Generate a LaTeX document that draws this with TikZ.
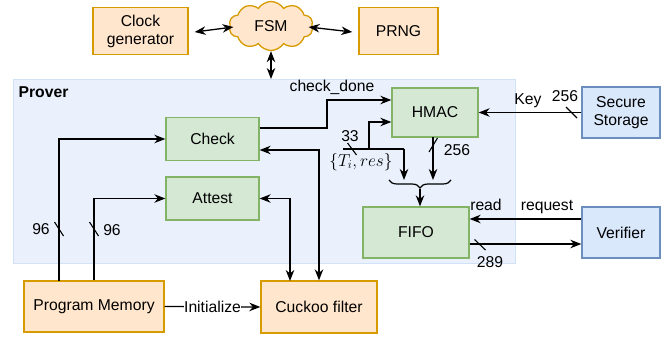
\documentclass[tikz,border=0pt]{standalone}
\usepackage{fontspec}
\setmainfont{Liberation Sans}
\usetikzlibrary{arrows.meta,shapes.symbols,decorations.pathreplacing,calc}
\definecolor{orF}{HTML}{FFE6CC}
\definecolor{orD}{HTML}{D79B00}
\definecolor{grF}{HTML}{D5E8D4}
\definecolor{grD}{HTML}{82B366}
\definecolor{blF}{HTML}{DAE8FC}
\definecolor{blD}{HTML}{6C8EBF}
\definecolor{prF}{HTML}{EAF1FC}
\definecolor{prD}{HTML}{D2E2F6}
\begin{document}
\begin{tikzpicture}[x=1pt,y=-1pt,
  font=\fontsize{15.7}{18}\selectfont,
  line width=1.3pt,
  >={Stealth[length=11pt,width=8.5pt,inset=3.5pt]},
  box/.style={draw, rectangle, inner sep=0pt, align=center, line width=1.3pt},
  obox/.style={box, fill=orF, draw=orD},
  gbox/.style={box, fill=grF, draw=grD},
  bbox/.style={box, fill=blF, draw=blD},
  lbl/.style={inner sep=1pt},
  tick/.style={line width=1.1pt}]
\useasboundingbox (0,0) rectangle (665,337);

% Prover region
\node[draw=prD, fill=prF, line width=1.2pt, rectangle, inner sep=0pt,
      minimum width=502pt, minimum height=184pt, anchor=north west] (prover) at (13,79) {};
\node[anchor=west, font=\fontsize{15.7}{18}\selectfont\bfseries, inner sep=0pt] (proverlbl) at (18,92) {Prover};

% top row
\node[obox, minimum width=95pt, minimum height=47pt] (clock) at (140.5,31) {Clock\\generator};
\node[cloud, cloud puffs=10, cloud puff arc=115, aspect=1.8, draw=orD, fill=orF,
      line width=1.3pt, minimum width=84pt, minimum height=49pt, inner sep=0pt] (fsm) at (271,26) {FSM};
\node[obox, minimum width=79pt, minimum height=47pt] (prng) at (398.5,31) {PRNG};

% inner blocks
\node[gbox, minimum width=86pt, minimum height=49pt] (hmac) at (435,112.5) {HMAC};
\node[gbox, minimum width=93pt, minimum height=43pt] (check) at (212.5,139) {Check};
\node[gbox, minimum width=93pt, minimum height=43pt] (attest) at (212.5,198.5) {Attest};
\node[gbox, minimum width=106pt, minimum height=51pt] (fifo) at (416,232.5) {FIFO};

% right blocks
\node[bbox, minimum width=78pt, minimum height=51pt] (secure) at (621,112.5) {Secure\\Storage};
\node[bbox, minimum width=78pt, minimum height=51pt] (verifier) at (621,232.5) {Verifier};

% bottom blocks
\node[obox, minimum width=140pt, minimum height=51pt] (pm) at (94,306.5) {Program Memory};
\node[obox, minimum width=116pt, minimum height=52pt] (cuckoo) at (319,307) {Cuckoo filter};

% top connectors
\draw[<->] ([xshift=6pt,yshift=-1pt]clock.east) -- ([xshift=4pt,yshift=-1pt]fsm.west);
\draw[<->] ([xshift=-4pt,yshift=-1pt]fsm.east) -- ([xshift=-6pt,yshift=-1pt]prng.west);
\draw[<->] (fsm.south) -- (fsm.south |- prover.north);

% program memory to check / attest
\coordinate (pmA) at (59,281);
\draw[->] (pmA) |- (check.west);
\draw[->] (pm.north) |- (attest.west);
\draw[tick] (54.5,222) -- (63.5,236);
\draw[tick] (89.5,222) -- (98.5,236);
\node[lbl] (n96a) at (41,229) {96};
\node[lbl] (n96b) at (112,230) {96};

% check / attest to cuckoo
\coordinate (cuA) at (290,281);
\draw[<->] (attest.east) -| (cuA);
\draw[<->] ([yshift=-11pt]check.east) -| (cuckoo.north);

% initialize
\draw[->] (pm.east) -- node[fill=white, inner sep=0.5pt] (init) {Initialize} (cuckoo.west);

% check_done
\coordinate (cdBend) at (327,128);
\draw[->] ([yshift=11pt]check.east) -- (cdBend) |- ([yshift=12.5pt]hmac.west);
\node[lbl] (cdlbl) at (332,87) {check\_done};

% bus {T_i,res}
\coordinate (busS) at (343,149);
\coordinate (busB) at (369,149);
\coordinate (busR) at (404,149);
\coordinate (brL) at (389,180);
\coordinate (brR) at (451,180);
\coordinate (brTip) at (420,189);
\draw (busS) -- (busR);
\draw[->] (busR) -- (busR |- brL);
\draw[->] (busB) |- ([yshift=-9.5pt]hmac.west);
\draw[tick] (347.5,143) -- (356.5,155);
\node[lbl] (n33) at (350,136) {33};
\node[lbl, font=\fontsize{18}{21}\selectfont] (tires) at (361,162) {$\{T_i,res\}$};

% hmac out
\coordinate (hmOut) at (433,137);
\draw[->] (hmOut) -- (hmOut |- brL);
\draw[tick] (429,152) -- (437.5,138);
\node[lbl] (n256a) at (457,150) {256};

% brace and arrow to FIFO
\draw[line width=1.2pt, decorate, decoration={brace, mirror, amplitude=8pt}] (brL) -- (brR);
\draw[->] (brTip) -- (brTip |- fifo.north);

% key
\draw[->] (secure.west) -- (hmac.east);
\draw[tick] (566,107) -- (577,118);
\node[lbl] (keylbl) at (528,101) {Key};
\node[lbl] (n256b) at (565,96) {256};

% verifier <-> fifo
\draw[->] ([yshift=13.5pt]verifier.west) -- ([yshift=13.5pt]fifo.east);
\draw[->] ([yshift=-11.5pt]fifo.east) -- ([yshift=-11.5pt]verifier.west);
\draw[tick] (474.5,239.5) -- (485.5,250);
\node[lbl] (readlbl) at (486,205) {read};
\node[lbl] (reqlbl) at (547,207) {request};
\node[lbl] (n289) at (490,262) {289};
\end{tikzpicture}
\end{document}
